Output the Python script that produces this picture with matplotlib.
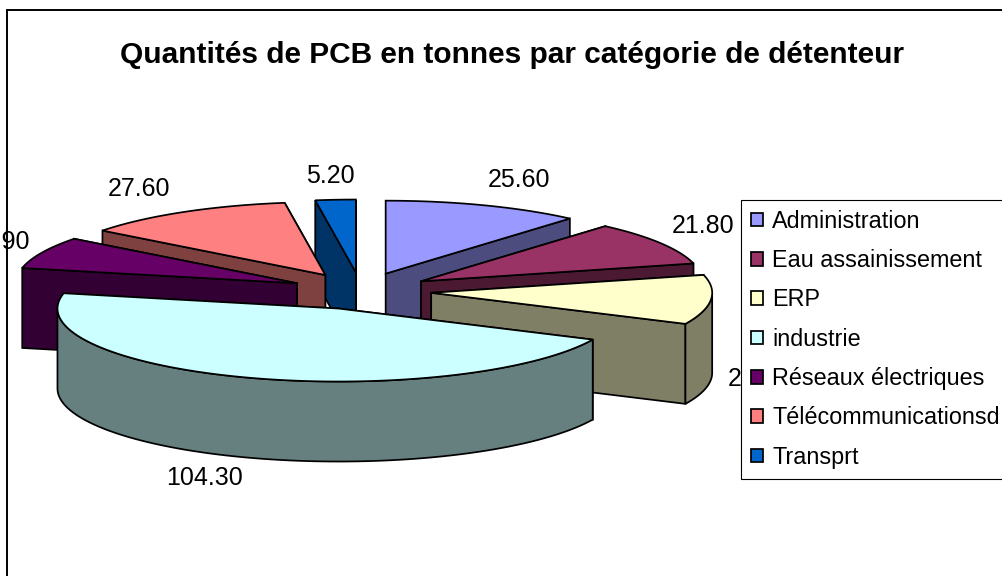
import numpy as np
import matplotlib
matplotlib.use('Agg')
import matplotlib.pyplot as plt
from matplotlib.patches import Patch, Rectangle

TITLE='Quantités de PCB en tonnes par catégorie de détenteur'
CATEGORIES=['Administration','Eau assainissement','ERP','industrie',
    'Réseaux électriques','Télécommunicationsd','Transprt']
VALUES=[25.60,21.80,24.60,104.30,15.90,27.60,5.20]
TOP_COLORS=['#9999FF','#993366','#FFFFCC','#CCFFFF','#660066','#FF8080','#0066CC']
SIDE_COLORS=['#4C4C7F','#4C1933','#7F7F66','#667F7F','#330033','#7F4040','#003366']

# geometry of the tilted pie, in pixels
CX,CY=361,291
RX,RY=281,73
EXPLODE_X,EXPLODE_Y=70.5,18.5
DEPTH=80
LINE=1.25
FONT='Liberation Sans'
LABEL_XY=[(519,180),(703,226),(759,379),(205,478),(-2,242),(139,189),(330,176)]

plt.rcParams['font.family']=FONT


def side_face(xs,ys):
    xs=np.asarray(xs)
    ys=np.asarray(ys)
    return np.r_[xs,xs[::-1]],np.r_[ys,ys[::-1]+DEPTH]


fig=plt.figure(figsize=(10.03,5.76),dpi=100)
ax=fig.add_axes([0,0,1,1])
ax.set_xlim(0,1003)
ax.set_ylim(576,0)
ax.axis('off')

ax.add_patch(Rectangle((7,10),1100,700,fc='white',ec='black',lw=1.4,zorder=0))

vals=np.array(VALUES)
edges=np.r_[0,np.cumsum(vals)]/vals.sum()*2*np.pi
wedges=[]
for i in range(len(vals)):
    mid=(edges[i]+edges[i+1])/2
    ax0=CX+EXPLODE_X*np.sin(mid)
    ay0=CY-EXPLODE_Y*np.cos(mid)
    wedges.append((ay0,ax0,i))

z=1
for ay0,ax0,i in sorted(wedges):
    t=np.linspace(edges[i],edges[i+1],80)
    arc_x=ax0+RX*np.sin(t)
    arc_y=ay0-RY*np.cos(t)
    faces=[
        ([ax0,arc_x[0]],[ay0,arc_y[0]]),
        ([ax0,arc_x[-1]],[ay0,arc_y[-1]])]
    # only the front half of the rim can be seen
    lo,hi=max(edges[i],np.pi/2),min(edges[i+1],3*np.pi/2)
    if lo<hi:
        front=np.linspace(lo,hi,80)
        faces.append((ax0+RX*np.sin(front),ay0-RY*np.cos(front)))
    # back faces first
    for fx,fy in sorted(faces,key=lambda f:np.mean(f[1])):
        px,py=side_face(fx,fy)
        ax.fill(px,py,fc=SIDE_COLORS[i],ec='black',lw=LINE,zorder=z,joinstyle='miter')
        z+=1
    ax.fill(np.r_[ax0,arc_x],np.r_[ay0,arc_y],fc=TOP_COLORS[i],ec='black',lw=LINE,zorder=z,joinstyle='miter')
    z+=1

for v,(lx,ly) in zip(VALUES,LABEL_XY):
    ax.text(lx,ly,'{:.2f}'.format(v),fontsize=18,ha='center',va='center',zorder=z)

ax.text(512,55,TITLE,fontsize=21.5,fontweight='bold',ha='center',va='center',zorder=z)

handles=[Patch(fc=c,ec='black',lw=LINE) for c in TOP_COLORS]
leg=ax.legend(handles,CATEGORIES,loc='upper left',bbox_to_anchor=(741,200),
    bbox_transform=ax.transData,borderaxespad=0,fontsize=16.8,
    handlelength=0.53,handleheight=0.53,handletextpad=0.38,labelspacing=0.7,
    borderpad=0.42,fancybox=False,framealpha=1,edgecolor='black')
leg.get_frame().set_linewidth(0.8)
leg.set_zorder(z+1)

fig.savefig('out.png',dpi=100)
